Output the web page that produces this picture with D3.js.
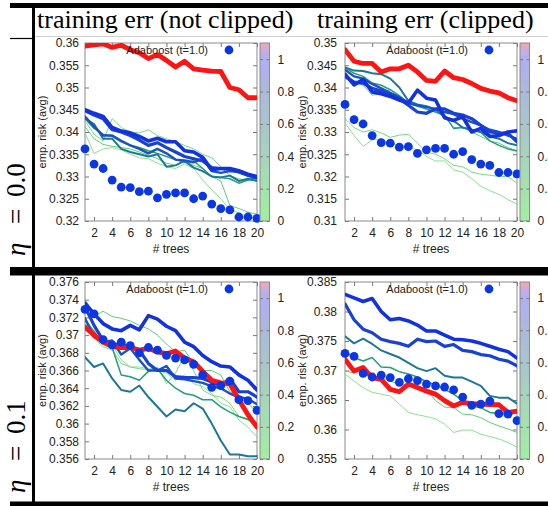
<!DOCTYPE html>
<html><head><meta charset="utf-8">
<script src="https://cdn.jsdelivr.net/npm/d3@7"></script>
<style>body{margin:0;background:#fff}svg{display:block}</style>
</head><body><svg id="c" width="548" height="506"></svg>
<script>
// ---------------- data ----------------
const trees = [1,2,3,4,5,6,7,8,9,10,11,12,13,14,15,16,17,18,19,20];
const xTickValues = [2,4,6,8,10,12,14,16,18,20];
const cbTickValues = [0,0.2,0.4,0.6,0.8,1];
const columnTitles = ["training err (not clipped)", "training err (clipped)"];
const rowLabels = ["0.0", "0.1"];
const legendLabel = "Adaboost (t=1.0)";

const yTicksEta00NotClipped = [0.32,0.325,0.33,0.335,0.34,0.345,0.35,0.355,0.36];
const yTicksEta00Clipped = [0.31,0.315,0.32,0.325,0.33,0.335,0.34,0.345,0.35];
const yTicksEta01NotClipped = [0.356,0.358,0.36,0.362,0.364,0.366,0.368,0.37,0.372,0.374,0.376];
const yTicksEta01Clipped = [0.355,0.36,0.365,0.37,0.375,0.38,0.385];

const adaboostEta00 = [0.3362,0.3328,0.3318,0.3292,0.3276,0.3275,0.3266,0.3267,0.3252,0.3260,0.3263,0.3263,0.3250,0.3256,0.3238,0.3228,0.3225,0.3209,0.3209,0.3206];
const adaboostEta01 = [0.3729,0.3724,0.3695,0.3689,0.3692,0.3688,0.3680,0.3686,0.3683,0.3677,0.3674,0.3672,0.3667,0.3655,0.3641,0.3643,0.3648,0.3627,0.3626,0.3615];

const tEta00NotClipped = [0, 0.1, 0.2, 0.4, 0.6, 0.8, 0.9, 1.0, 1.1];
const riskEta00NotClipped = [
 [0.3398,0.3352,0.3362,0.3365,0.3360,0.3350,0.3342,0.3340,0.3330,0.3322,0.3318,0.3328,0.3318,0.3292,0.3270,0.3250,0.3225,0.3218,0.3210,0.3205],
 [0.3425,0.3395,0.3380,0.3430,0.3410,0.3400,0.3398,0.3405,0.3392,0.3385,0.3378,0.3370,0.3362,0.3350,0.3342,0.3322,0.3302,0.3295,0.3290,0.3293],
 [0.3412,0.3385,0.3372,0.3368,0.3365,0.3362,0.3355,0.3348,0.3340,0.3330,0.3325,0.3335,0.3325,0.3318,0.3300,0.3290,0.3235,0.3228,0.3220,0.3215],
 [0.3430,0.3408,0.3395,0.3390,0.3378,0.3370,0.3365,0.3358,0.3352,0.3345,0.3338,0.3332,0.3335,0.3318,0.3300,0.3298,0.3295,0.3285,0.3292,0.3298],
 [0.3430,0.3418,0.3385,0.3385,0.3362,0.3355,0.3350,0.3345,0.3350,0.3322,0.3325,0.3335,0.3320,0.3312,0.3300,0.3298,0.3302,0.3290,0.3295,0.3290],
 [0.3435,0.3412,0.3392,0.3392,0.3380,0.3370,0.3362,0.3352,0.3362,0.3352,0.3338,0.3336,0.3332,0.3340,0.3312,0.3308,0.3312,0.3310,0.3302,0.3295],
 [0.3448,0.3438,0.3430,0.3405,0.3400,0.3392,0.3382,0.3370,0.3376,0.3365,0.3355,0.3345,0.3340,0.3335,0.3320,0.3318,0.3316,0.3310,0.3303,0.3298],
 [0.3450,0.3442,0.3435,0.3410,0.3402,0.3398,0.3390,0.3380,0.3386,0.3378,0.3378,0.3358,0.3355,0.3343,0.3315,0.3318,0.3318,0.3313,0.3305,0.3300],
 [0.3593,0.3596,0.3598,0.3590,0.3595,0.3585,0.3578,0.3565,0.3574,0.3561,0.3546,0.3559,0.3542,0.3539,0.3537,0.3536,0.3500,0.3495,0.3477,0.3477]
];

const tEta00Clipped = [0, 0.1, 0.2, 0.4, 0.6, 0.8, 0.9, 1.0, 1.1];
const riskEta00Clipped = [
 [0.3320,0.3292,0.3268,0.3282,0.3285,0.3272,0.3272,0.3265,0.3260,0.3245,0.3235,0.3235,0.3215,0.3210,0.3195,0.3178,0.3168,0.3160,0.3148,0.3138],
 [0.3330,0.3310,0.3300,0.3305,0.3298,0.3288,0.3293,0.3295,0.3275,0.3255,0.3250,0.3240,0.3225,0.3222,0.3210,0.3205,0.3203,0.3200,0.3200,0.3185],
 [0.3420,0.3412,0.3405,0.3383,0.3385,0.3395,0.3380,0.3365,0.3360,0.3350,0.3345,0.3335,0.3310,0.3310,0.3300,0.3290,0.3280,0.3275,0.3265,0.3258],
 [0.3445,0.3432,0.3425,0.3410,0.3405,0.3395,0.3382,0.3365,0.3358,0.3352,0.3345,0.3338,0.3308,0.3310,0.3305,0.3300,0.3280,0.3270,0.3262,0.3257],
 [0.3445,0.3438,0.3437,0.3432,0.3430,0.3420,0.3400,0.3370,0.3362,0.3358,0.3350,0.3335,0.3325,0.3310,0.3305,0.3300,0.3290,0.3285,0.3275,0.3270],
 [0.3440,0.3425,0.3420,0.3408,0.3398,0.3388,0.3378,0.3365,0.3360,0.3356,0.3352,0.3345,0.3340,0.3330,0.3322,0.3315,0.3305,0.3300,0.3292,0.3285],
 [0.3425,0.3412,0.3410,0.3398,0.3392,0.3385,0.3375,0.3360,0.3345,0.3342,0.3352,0.3352,0.3342,0.3338,0.3330,0.3315,0.3300,0.3298,0.3297,0.3278],
 [0.3430,0.3406,0.3418,0.3390,0.3386,0.3380,0.3372,0.3365,0.3394,0.3376,0.3372,0.3332,0.3326,0.3334,0.3300,0.3308,0.3290,0.3292,0.3300,0.3303],
 [0.3485,0.3459,0.3454,0.3454,0.3435,0.3442,0.3442,0.3450,0.3435,0.3416,0.3414,0.3437,0.3422,0.3418,0.3409,0.3398,0.3392,0.3388,0.3377,0.3370]
];

const tEta01NotClipped = [0, 0.1, 0.2, 0.4, 0.6, 0.8, 0.9, 1.0, 1.1];
const riskEta01NotClipped = [
 [0.3713,0.3705,0.3696,0.3689,0.3672,0.3664,0.3664,0.3662,0.3660,0.3657,0.3649,0.3655,0.3645,0.3642,0.3634,0.3623,0.3619,0.3604,0.3596,0.3585],
 [0.3709,0.3696,0.3687,0.3683,0.3668,0.3664,0.3662,0.3661,0.3664,0.3645,0.3657,0.3677,0.3660,0.3638,0.3632,0.3630,0.3623,0.3608,0.3604,0.3596],
 [0.3741,0.3721,0.3727,0.3721,0.3719,0.3716,0.3711,0.3707,0.3700,0.3690,0.3681,0.3683,0.3668,0.3660,0.3660,0.3655,0.3636,0.3630,0.3623,0.3612],
 [0.3717,0.3704,0.3690,0.3686,0.3655,0.3653,0.3649,0.3659,0.3662,0.3649,0.3640,0.3634,0.3632,0.3627,0.3627,0.3619,0.3613,0.3608,0.3605,0.3600],
 [0.3675,0.3664,0.3668,0.3651,0.3638,0.3636,0.3643,0.3630,0.3619,0.3608,0.3616,0.3614,0.3623,0.3617,0.3600,0.3581,0.3565,0.3565,0.3563,0.3563],
 [0.3719,0.3698,0.3692,0.3694,0.3678,0.3685,0.3672,0.3660,0.3660,0.3665,0.3651,0.3650,0.3648,0.3646,0.3642,0.3640,0.3634,0.3630,0.3628,0.3622],
 [0.3732,0.3711,0.3694,0.3689,0.3690,0.3687,0.3683,0.3668,0.3660,0.3660,0.3653,0.3652,0.3652,0.3651,0.3647,0.3643,0.3651,0.3636,0.3636,0.3630],
 [0.3736,0.3724,0.3713,0.3707,0.3705,0.3711,0.3706,0.3722,0.3718,0.3710,0.3705,0.3692,0.3687,0.3677,0.3670,0.3665,0.3664,0.3655,0.3649,0.3638],
 [0.3709,0.3700,0.3692,0.3687,0.3686,0.3686,0.3683,0.3685,0.3681,0.3679,0.3682,0.3674,0.3670,0.3659,0.3649,0.3646,0.3645,0.3627,0.3610,0.3596]
];

const tEta01Clipped = [0, 0.2, 0.4, 0.6, 0.9, 1.0, 1.1];
const riskEta01Clipped = [
 [0.3694,0.3682,0.3671,0.3663,0.3660,0.3657,0.3643,0.3629,0.3625,0.3622,0.3618,0.3609,0.3595,0.3599,0.3599,0.3592,0.3588,0.3584,0.3578,0.3570],
 [0.3699,0.3696,0.3705,0.3689,0.3688,0.3682,0.3677,0.3676,0.3674,0.3668,0.3649,0.3638,0.3637,0.3626,0.3625,0.3620,0.3612,0.3606,0.3601,0.3595],
 [0.3732,0.3722,0.3716,0.3722,0.3706,0.3705,0.3698,0.3694,0.3689,0.3681,0.3676,0.3668,0.3660,0.3649,0.3640,0.3637,0.3629,0.3627,0.3629,0.3631],
 [0.3758,0.3746,0.3754,0.3745,0.3734,0.3728,0.3722,0.3713,0.3704,0.3699,0.3704,0.3691,0.3688,0.3688,0.3681,0.3674,0.3657,0.3654,0.3654,0.3644],
 [0.3813,0.3786,0.3770,0.3764,0.3753,0.3749,0.3746,0.3741,0.3753,0.3749,0.3750,0.3741,0.3744,0.3734,0.3732,0.3727,0.3725,0.3719,0.3716,0.3708],
 [0.3829,0.3823,0.3817,0.3822,0.3800,0.3786,0.3788,0.3784,0.3777,0.3767,0.3767,0.3760,0.3753,0.3752,0.3750,0.3746,0.3741,0.3736,0.3732,0.3721],
 [0.3719,0.3699,0.3705,0.3688,0.3685,0.3668,0.3664,0.3677,0.3671,0.3665,0.3660,0.3649,0.3640,0.3646,0.3644,0.3643,0.3642,0.3642,0.3629,0.3631]
];

// ---------------- drawing ----------------
const svg = d3.select("#c");
const defs = svg.append("defs");
const SANS = "'Liberation Sans', Arial, sans-serif";
const SERIF = "'Liberation Serif', 'Times New Roman', serif";

const lineColor = d3.scaleLinear()
  .domain([0, 0.2, 0.4, 0.6, 0.8, 1.0, 1.05, 1.1])
  .range(["#7ee07e", "#5ed07a", "#22a076", "#1a7899", "#1e52c4", "#1232e2", "#ff1414", "#ff1414"]);
const lineWidth = d3.scaleLinear()
  .domain([0, 0.2, 0.4, 0.6, 0.8, 0.9, 1.0, 1.1])
  .range([0.9, 1.0, 1.5, 2.0, 2.4, 3.2, 3.6, 4.8]);

// colorbar gradient
const grad = defs.append("linearGradient").attr("id", "cbgrad")
  .attr("x1", 0).attr("y1", 1).attr("x2", 0).attr("y2", 0);
[[0, "#a2eea2"], [0.25, "#a6dcb4"], [0.5, "#a8c8c8"], [0.75, "#acb8dc"], [0.88, "#afaff2"], [0.93, "#b4b0f0"], [1, "#f4a6b8"]]
  .forEach(([o, c]) => grad.append("stop").attr("offset", o).attr("stop-color", c));

const panels = [
  {id: "a", x0: 85, x1: 257, y0: 43, y1: 221, domain: [0.32, 0.36], yTicks: yTicksEta00NotClipped, t: tEta00NotClipped, series: riskEta00NotClipped, ada: adaboostEta00, pad: 6},
  {id: "b", x0: 345, x1: 517, y0: 43, y1: 221, domain: [0.31, 0.35], yTicks: yTicksEta00Clipped, t: tEta00Clipped, series: riskEta00Clipped, ada: adaboostEta00, pad: 8},
  {id: "c", x0: 85, x1: 257, y0: 282, y1: 459, domain: [0.356, 0.376], yTicks: yTicksEta01NotClipped, t: tEta01NotClipped, series: riskEta01NotClipped, ada: adaboostEta01, pad: 6},
  {id: "d", x0: 345, x1: 517, y0: 282, y1: 459, domain: [0.355, 0.385], yTicks: yTicksEta01Clipped, t: tEta01Clipped, series: riskEta01Clipped, ada: adaboostEta01, pad: 8}
];

const fmt = d => String(+d.toFixed(4));

function styleAxis(sel, showText) {
  sel.select(".domain").remove();
  sel.selectAll(".tick line").attr("stroke", "#777").attr("stroke-width", 1);
  sel.selectAll(".tick text").attr("fill", "#222").style("font-family", SANS).style("font-size", "12px");
  if (!showText) sel.selectAll(".tick text").remove();
}

function drawPanel(p) {
  const g = svg.append("g");
  const x = d3.scaleLinear().domain([1, 20]).range([p.x0, p.x1]);
  const y = d3.scaleLinear().domain(p.domain).range([p.y1, p.y0]);

  defs.append("clipPath").attr("id", "clip" + p.id).append("rect")
    .attr("x", p.x0).attr("y", p.y0).attr("width", p.x1 - p.x0).attr("height", p.y1 - p.y0);

  // axes with inward ticks on all sides
  g.append("g").attr("transform", `translate(${p.x0},0)`)
    .call(d3.axisLeft(y).tickValues(p.yTicks).tickFormat(fmt).tickSizeInner(-4).tickSizeOuter(0).tickPadding(p.pad))
    .call(s => styleAxis(s, true));
  g.append("g").attr("transform", `translate(${p.x1},0)`)
    .call(d3.axisRight(y).tickValues(p.yTicks).tickSizeInner(-4).tickSizeOuter(0))
    .call(s => styleAxis(s, false));
  g.append("g").attr("transform", `translate(0,${p.y1})`)
    .call(d3.axisBottom(x).tickValues(xTickValues).tickSizeInner(-4).tickSizeOuter(0).tickPadding(7))
    .call(s => styleAxis(s, true));
  g.append("g").attr("transform", `translate(0,${p.y0})`)
    .call(d3.axisTop(x).tickValues(xTickValues).tickSizeInner(-4).tickSizeOuter(0))
    .call(s => styleAxis(s, false));

  g.append("rect").attr("x", p.x0).attr("y", p.y0).attr("width", p.x1 - p.x0).attr("height", p.y1 - p.y0)
    .attr("fill", "none").attr("stroke", "#8a8a8a").attr("stroke-width", 1);

  // axis titles
  g.append("text").attr("x", (p.x0 + p.x1) / 2).attr("y", p.y1 + 32).attr("text-anchor", "middle")
    .style("font-family", SANS).style("font-size", "12px").attr("fill", "#222").text("# trees");
  g.append("text").attr("transform", `translate(${p.x0 - 39},${(p.y0 + p.y1) / 2}) rotate(-90)`)
    .attr("text-anchor", "middle").style("font-family", SANS).style("font-size", "11px").attr("fill", "#222")
    .text("emp. risk (avg)");

  // lines
  const line = d3.line().x((d, i) => x(trees[i])).y(d => y(d)).curve(d3.curveLinear);
  const data = p.series.map((vals, i) => ({vals, t: p.t[i]}));
  g.append("g").attr("clip-path", `url(#clip${p.id})`)
    .selectAll("path").data(data).join("path")
    .attr("d", d => line(d.vals))
    .attr("fill", "none")
    .attr("stroke", d => lineColor(d.t))
    .attr("stroke-width", d => lineWidth(d.t))
    .attr("stroke-linejoin", "round").attr("stroke-linecap", "round");

  // adaboost dots
  g.append("g").selectAll("circle").data(p.ada).join("circle")
    .attr("cx", (d, i) => x(trees[i])).attr("cy", d => y(d)).attr("r", 4.4)
    .attr("fill", "#0b36e6");

  // legend
  g.append("text").attr("x", p.x0 + 123).attr("y", p.y0 + 11).attr("text-anchor", "end")
    .style("font-family", SANS).style("font-size", "11px").attr("fill", "#222").text(legendLabel);
  g.append("circle").attr("cx", p.x0 + 144).attr("cy", p.y0 + 7).attr("r", 4.4).attr("fill", "#0b36e6");

  // colorbar
  const cb0 = p.x1 + 3, cbw = 9.5;
  const cy = d3.scaleLinear().domain([0, 1.1]).range([p.y1, p.y0]);
  g.append("rect").attr("x", cb0).attr("y", p.y0).attr("width", cbw).attr("height", p.y1 - p.y0)
    .attr("fill", "url(#cbgrad)").attr("stroke", "#8a8a8a").attr("stroke-width", 1);
  g.append("g").attr("transform", `translate(${cb0 + cbw},0)`)
    .call(d3.axisRight(cy).tickValues(cbTickValues).tickFormat(fmt).tickSizeInner(-3).tickSizeOuter(0).tickPadding(8))
    .call(s => styleAxis(s, true));
  g.append("g").attr("transform", `translate(${cb0},0)`)
    .call(d3.axisLeft(cy).tickValues(cbTickValues).tickSizeInner(-3).tickSizeOuter(0))
    .call(s => styleAxis(s, false));
}

panels.forEach(drawPanel);

// ---------------- table frame ----------------
svg.append("line").attr("x1", 35).attr("x2", 548).attr("y1", 36.5).attr("y2", 36.5).attr("stroke", "#d0d0d0").attr("stroke-width", 1);
svg.append("line").attr("x1", 10).attr("x2", 33).attr("y1", 38.5).attr("y2", 38.5).attr("stroke", "#000").attr("stroke-width", 1.2);
svg.append("rect").attr("x", 10).attr("y", 3).attr("width", 538).attr("height", 5).attr("fill", "#000");
svg.append("rect").attr("x", 10).attr("y", 267).attr("width", 538).attr("height", 8.5).attr("fill", "#000");
svg.append("rect").attr("x", 10).attr("y", 501.5).attr("width", 538).attr("height", 5).attr("fill", "#000");
svg.append("rect").attr("x", 32).attr("y", 3).attr("width", 3).attr("height", 503).attr("fill", "#000");

// column headers
svg.append("text").attr("x", 37).attr("y", 28).style("font-family", SERIF).style("font-size", "26px").attr("fill", "#000").text(columnTitles[0]);
svg.append("text").attr("x", 317).attr("y", 28).style("font-family", SERIF).style("font-size", "26px").attr("fill", "#000").text(columnTitles[1]);

// row labels (rotated)
[[257, rowLabels[0]], [494, rowLabels[1]]].forEach(([yb, lab]) => {
  const rg = svg.append("g").attr("transform", `translate(25,${yb}) rotate(-90)`)
    .style("font-family", SERIF).style("font-size", "27px").attr("fill", "#000");
  rg.append("text").attr("x", 1).attr("y", 0).style("font-style", "italic").text("η");
  rg.append("text").attr("x", 33).attr("y", 0).text("=");
  rg.append("text").attr("x", 60).attr("y", 0).text(lab);
});
</script></body></html>
